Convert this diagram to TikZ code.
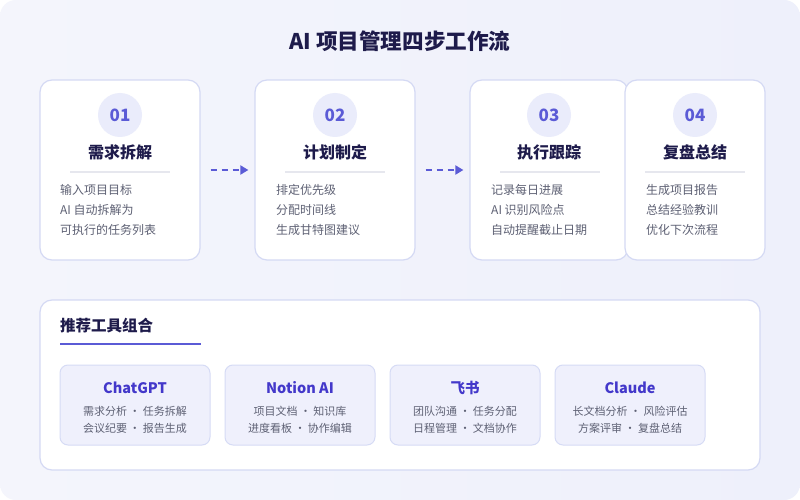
\documentclass[tikz,border=0pt]{standalone}
\usepackage{fontspec}
\setmainfont{Noto Sans CJK SC}
\usepackage{xcolor}
\usetikzlibrary{arrows.meta,positioning}
\definecolor{bgcol}{HTML}{F4F5FC}
\definecolor{bgcolb}{HTML}{EEF0FB}
\definecolor{cardline}{HTML}{D4D9F4}
\definecolor{numfill}{HTML}{EAECFB}
\definecolor{accent}{HTML}{5B5BD6}
\definecolor{ink}{HTML}{1E1B4B}
\definecolor{bodygray}{HTML}{5E6174}
\definecolor{toolfill}{HTML}{EFF0FC}
\definecolor{toolline}{HTML}{D6DBF5}
\definecolor{toolink}{HTML}{4338CA}
\definecolor{sepgray}{HTML}{E6E7EE}
\newcommand{\tdot}{\makebox[16pt]{·}}

\begin{document}
\begin{tikzpicture}[
  x=1pt,y=-1pt,
  card/.style={draw=cardline,line width=1.2pt,fill=white,rounded corners=12pt,minimum width=160pt,minimum height=180pt,inner sep=0pt},
  numdot/.style={circle,fill=numfill,minimum size=44pt,inner sep=0pt,text=accent,font=\fontsize{17}{20}\selectfont\bfseries},
  steptitle/.style={text=ink,font=\fontsize{16}{20}\selectfont\bfseries,inner sep=0pt},
  sepline/.style={draw=sepgray,line width=1.2pt},
  body/.style={anchor=west,align=left,inner sep=0pt,text=bodygray,font=\fontsize{12}{20}\selectfont},
  flow/.style={draw=accent,line width=1.8pt,dash pattern=on 6pt off 5pt,-{Triangle[length=8pt,width=9pt]},shorten <=10pt,shorten >=6pt},
  tool/.style={draw=toolline,line width=1pt,fill=toolfill,rounded corners=8pt,minimum width=150pt,minimum height=80pt,inner sep=0pt},
  toolname/.style={text=toolink,font=\fontsize{14.5}{18}\selectfont\bfseries,inner sep=0pt},
  tooldesc/.style={align=center,text=bodygray,inner sep=0pt,font=\fontsize{11}{17}\selectfont}
]
% background
\fill[white] (0,0) rectangle (800,500);
\shade[rounded corners=16pt,left color=bgcol,right color=bgcolb] (0,0) rectangle (800,500);
\useasboundingbox (0,0) rectangle (800,500);

\node[text=ink,font=\fontsize{21.6}{24}\selectfont\bfseries] (title) at (400,41) {AI 项目管理四步工作流};

% step cards
\node[card] (c1) at (120,170) {};
\node[card] (c2) at (335,170) {};
\node[card,minimum width=158pt] (c3) at (549,170) {};
\node[card,minimum width=140pt] (c4) at (695,170) {};

\node[numdot] (n1) at (120,115) {01};
\node[numdot] (n2) at (335,115) {02};
\node[numdot] (n3) at (549,115) {03};
\node[numdot] (n4) at (695,115) {04};

\node[steptitle] (t1) at (120,152) {需求拆解};
\node[steptitle] (t2) at (335,152) {计划制定};
\node[steptitle] (t3) at (549,152) {执行跟踪};
\node[steptitle] (t4) at (695,152) {复盘总结};

\draw[sepline] (70,172) -- (170,172);
\draw[sepline] (285,172) -- (385,172);
\draw[sepline] (500,172) -- (600,172);
\draw[sepline] (645,172) -- (745,172);

\node[body] (b1) at (60,210) {输入项目目标\\AI 自动拆解为\\可执行的任务列表};
\node[body] (b2) at (276,210) {排定优先级\\分配时间线\\生成甘特图建议};
\node[body] (b3) at (491,210) {记录每日进展\\AI 识别风险点\\自动提醒截止日期};
\node[body] (b4) at (646,210) {生成项目报告\\总结经验教训\\优化下次流程};

\draw[flow] (c1) -- (c2);
\draw[flow] (c2) -- (c3);

% tools panel
\node[draw=cardline,line width=1.2pt,fill=white,rounded corners=12pt,minimum width=720pt,minimum height=170pt,inner sep=0pt] (panel) at (400,385) {};
\node[anchor=west,inner sep=0pt,text=ink,font=\fontsize{15.5}{18}\selectfont\bfseries] (ptitle) at (60,326) {推荐工具组合};
\draw[accent,line width=2pt] (60,344) -- (201,344);

\node[tool] (k1) at (135,405) {};
\node[tool] (k2) at (300,405) {};
\node[tool] (k3) at (465,405) {};
\node[tool] (k4) at (630,405) {};

\node[toolname] (m1) at (135,388) {ChatGPT};
\node[toolname] (m2) at (300,388) {Notion AI};
\node[toolname] (m3) at (465,388) {飞书};
\node[toolname] (m4) at (630,388) {Claude};

\node[tooldesc] (d1) at (135,419.5) {需求分析\tdot 任务拆解\\会议纪要\tdot 报告生成};
\node[tooldesc] (d2) at (300,419.5) {项目文档\tdot 知识库\\进度看板\tdot 协作编辑};
\node[tooldesc] (d3) at (465,419.5) {团队沟通\tdot 任务分配\\日程管理\tdot 文档协作};
\node[tooldesc] (d4) at (630,419.5) {长文档分析\tdot 风险评估\\方案评审\tdot 复盘总结};
\end{tikzpicture}
\end{document}
